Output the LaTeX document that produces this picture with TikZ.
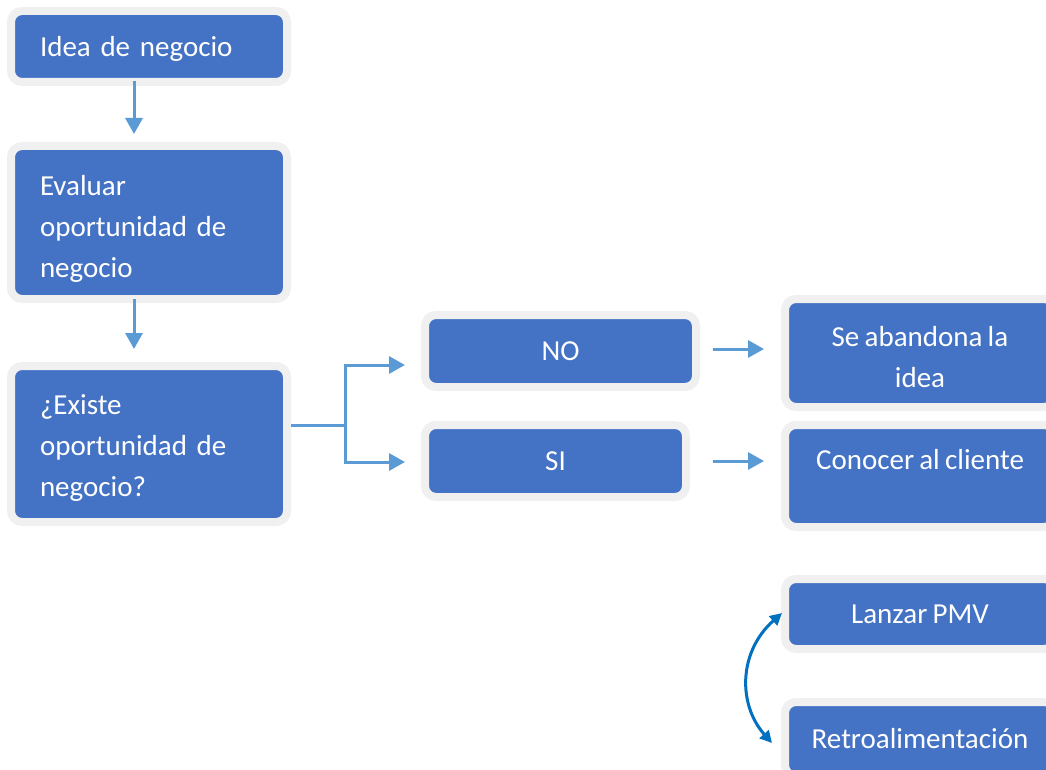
\documentclass[tikz,border=0pt]{standalone}
\usepackage{fontspec}
\setmainfont{Carlito}[WordSpace=0.8]
\usetikzlibrary{arrows.meta,calc}
\definecolor{boxblue}{HTML}{4472C4}
\definecolor{boxgray}{HTML}{F0F0F0}
\definecolor{arrblue}{HTML}{5B9BD5}
\definecolor{curveblue}{HTML}{0070C0}
\begin{document}
\begin{tikzpicture}[x=1pt,y=-1pt,
  box/.style={draw=boxgray, line width=8pt, fill=boxblue, rounded corners=11pt,
    text=white, font=\fontsize{29}{41}\selectfont, inner sep=0pt, outer sep=0pt},
  lbox/.style={box, align=left, inner xsep=29pt, text width=218pt},
  cbox/.style={box, align=center, minimum width=#1},
  conn/.style={draw=arrblue, line width=3pt},
  arr/.style={conn, -{Triangle[width=17pt,length=16pt]}},
  loop/.style={draw=curveblue, line width=3pt,
    {Triangle[width=12pt,length=12pt]}-{Triangle[width=12pt,length=12pt]}}]
\useasboundingbox (0,0) rectangle (1046,770);
\fill[white] (0,0) rectangle (1046,770);
\clip (0,0) rectangle (1046,770);
% left column
\node[lbox, minimum height=71pt] (idea) at (149,46.5) {\rule{0pt}{24pt}Idea de negocio};
\node[lbox, minimum height=153pt] (eval) at (149,222.5) {\rule{0pt}{32pt}Evaluar\\oportunidad de\\negocio};
\node[lbox, minimum height=156pt] (exis) at (149,444) {\rule{0pt}{27pt}¿Existe\\oportunidad de\\negocio?};
% middle column
\node[cbox=271pt, minimum height=72pt] (no) at (560.5,351) {NO};
\node[cbox=261pt, minimum height=72pt] (si) at (555.5,461) {SI};
% right column
\node[cbox=270pt, minimum height=108pt] (se) at (920,353) {\rule{0pt}{28pt}Se abandona la\\idea};
\node[cbox=270pt, minimum height=102pt] (co) at (920,476) {\rule{0pt}{28pt}Conocer al cliente\\\mbox{}};
\node[cbox=270pt, minimum height=70pt] (la) at (920,614) {Lanzar PMV};
\node[cbox=270pt, minimum height=74pt] (re) at (920,739) {Retroalimentación};
% connectors
\draw[arr] ($(idea.south)+(-15,-1)$) -- ($(eval.north)+(-15,-12)$);
\draw[arr] ($(eval.south)+(-15,0)$) -- ($(exis.north)+(-15,-17)$);
\coordinate (j) at ($(exis.east)+(58,-19)$);
\draw[conn] ($(exis.east)+(4,-19)$) -- (j);
\draw[arr] (j) |- ($(no.west)+(-20,14)$);
\draw[arr] (j) |- ($(si.west)+(-20,1)$);
\draw[arr] ($(no.east)+(17,-2)$) -- ($(no.east -| se.west)+(-21,-2)$);
\draw[arr] ($(si.east)+(27,0)$) -- ($(si.east -| co.west)+(-21,0)$);
\draw[loop] ($(re.west)+(-13,4)$) .. controls (738,705) and (738,652) .. ($(la.west)+(-3,-1)$);
\end{tikzpicture}
\end{document}
